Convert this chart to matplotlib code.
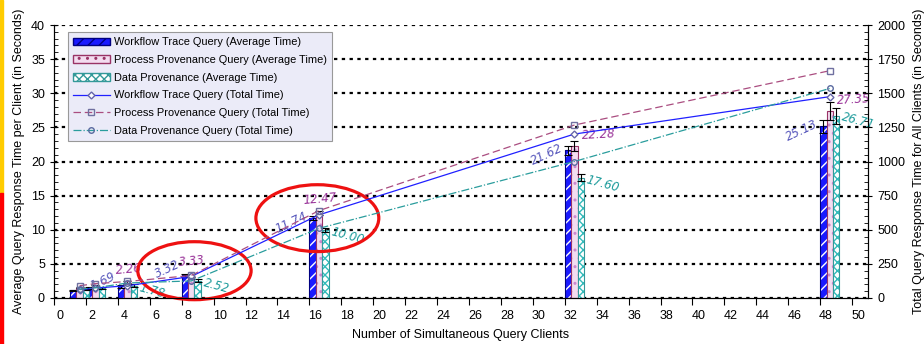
import matplotlib.pyplot as plt
import matplotlib.transforms as mtransforms
from matplotlib.patches import Ellipse, Rectangle, Patch
from matplotlib.lines import Line2D
import numpy as np

plt.rcParams['font.family'] = ['Liberation Sans', 'DejaVu Sans']

# data
clients = [1, 2, 4, 8, 16, 32, 48]
wf_avg = [1.10, 1.40, 1.69, 3.32, 11.74, 21.62, 25.13]
pp_avg = [1.50, 1.70, 2.26, 3.33, 12.47, 22.28, 27.35]
dp_avg = [1.20, 1.40, 1.78, 2.52, 10.00, 17.60, 26.71]
wf_err = [0.10, 0.15, 0.20, 0.20, 0.30, 0.60, 1.00]
pp_err = [0.10, 0.15, 0.20, 0.20, 0.30, 0.70, 1.30]
dp_err = [0.10, 0.15, 0.20, 0.20, 0.30, 0.50, 1.20]
wf_total = [61, 73, 90, 158, 609, 1201, 1475]
pp_total = [90, 105, 121, 165, 640, 1267, 1665]
dp_total = [65, 75, 110, 125, 510, 1000, 1535]
labeled = [4, 8, 16, 32, 48]

x = np.array(clients, dtype=float)
w = 0.4

fig = plt.figure(figsize=(9.24, 3.44), dpi=100)
ax = fig.add_axes([54 / 924, 46 / 344, 814 / 924, 273 / 344])
ax2 = ax.twinx()

# bars
ax.bar(x, wf_avg, w, align='edge', color='#1a1aff', edgecolor='white', hatch='///', linewidth=0)
ax.bar(x, wf_avg, w, align='edge', fill=False, edgecolor='#000080', linewidth=0.8)
ax.bar(x + w, pp_avg, w, align='edge', color='#f3dcf0', edgecolor='#cc88cc', hatch='..', linewidth=0)
ax.bar(x + w, pp_avg, w, align='edge', fill=False, edgecolor='#993366', linewidth=0.8)
ax.bar(x + 2 * w, dp_avg, w, align='edge', color='white', edgecolor='#33bbbb', hatch='xxxx', linewidth=0)
ax.bar(x + 2 * w, dp_avg, w, align='edge', fill=False, edgecolor='#339999', linewidth=0.8)

for off, vals, errs in [(0.5, wf_avg, wf_err), (1.5, pp_avg, pp_err), (2.5, dp_avg, dp_err)]:
    ax.errorbar(x + off * w, vals, yerr=errs, fmt='none', ecolor='black', elinewidth=0.8, capsize=3, capthick=0.8)

# value labels
lab = dict(fontsize=8.5, style='italic', family='DejaVu Sans', rotation_mode='anchor', textcoords='offset points')
for xi, v in zip(x, wf_avg):
    if xi in labeled:
        dy = 8 if v < 5 else 2
        ax.annotate(f'{v:.2f}', (xi, v), xytext=(-2, dy), ha='right', va='center',
                    rotation=25, color='#5555bb', **lab)
for xi, v in zip(x, pp_avg):
    if xi in labeled:
        if v > 20:
            ax.annotate(f'{v:.2f}', (xi + 2 * w, v), xytext=(3, 3), ha='left', va='bottom',
                        rotation=3, color='#993399', **lab)
        else:
            ax.annotate(f'{v:.2f}', (xi + 1.5 * w, v), xytext=(1, 5), ha='center', va='bottom',
                        rotation=5, color='#993399', **lab)
for xi, v in zip(x, dp_avg):
    if xi in labeled:
        ax.annotate(f'{v:.2f}', (xi + 3 * w, v), xytext=(2, -1), ha='left', va='center',
                    rotation=-15, color='#1a9a9a', **lab)

# total time lines
ax2.plot(x + 1.5 * w, wf_total, '-', color='#2020ff', lw=0.9, marker='D', ms=3.5, mfc='white', mec='#6666aa')
ax2.plot(x + 1.5 * w, pp_total, '--', color='#aa4d80', lw=0.9, dashes=(6, 3), marker='s', ms=4.5, mfc='none', mec='#7070a0')
ax2.plot(x + 1.5 * w, dp_total, '-.', color='#2a9d9d', lw=0.9, marker='o', ms=4, mfc='none', mec='#5a6aa0')

# axes
ax.set_xlim(0, 51)
ax.set_ylim(0, 40)
ax2.set_ylim(0, 2000)
ax.set_xticks(np.arange(0, 51, 2))
ax.set_yticks(np.arange(0, 41, 5))
ax.set_yticks(np.arange(0, 41, 1), minor=True)
ax2.set_yticks(np.arange(0, 2001, 250))
ax2.set_yticks(np.arange(0, 2001, 50), minor=True)
ax.yaxis.grid(True, which='major', color='black', linestyle=(0, (1.5, 2)), linewidth=1.6)
ax.set_axisbelow(True)
for a in (ax, ax2):
    a.spines['top'].set_visible(False)
    a.tick_params(labelsize=9)
ax.tick_params(axis='y', which='major', direction='inout', length=6)
ax.tick_params(axis='y', which='minor', direction='in', length=3)
ax2.tick_params(axis='y', which='major', direction='inout', length=6)
ax2.tick_params(axis='y', which='minor', direction='in', length=3)
ax.tick_params(axis='x', direction='out', length=5)
shift = mtransforms.ScaledTranslation(6 / 100, 0, fig.dpi_scale_trans)
for lbl in ax.get_xticklabels():
    lbl.set_transform(lbl.get_transform() + shift)

ax.set_xlabel('Number of Simultaneous Query Clients', fontsize=9, labelpad=5)
ax.set_ylabel('Average Query Response Time per Client (in Seconds)', fontsize=9)
ax2.set_ylabel('Total Query Response Time for All Clients (in Seconds)', fontsize=9, labelpad=6)

# highlight ellipses
ax2.add_patch(Ellipse((8.8, 200), 7.1, 425, transform=ax2.transData, fill=False, edgecolor='#ee1111', lw=2.3, clip_on=False))
ax2.add_patch(Ellipse((16.5, 585), 7.7, 490, transform=ax2.transData, fill=False, edgecolor='#ee1111', lw=2.3, clip_on=False))

# legend
handles = [
    Patch(facecolor='#1a1aff', edgecolor='#000080', hatch='///'),
    Patch(facecolor='#f3dcf0', edgecolor='#993366', hatch='..'),
    Patch(facecolor='white', edgecolor='#339999', hatch='xxxx'),
    Line2D([], [], color='#2020ff', lw=0.9, marker='D', ms=3.5, mfc='white', mec='#6666aa'),
    Line2D([], [], color='#aa4d80', lw=0.9, ls='--', dashes=(6, 3), marker='s', ms=4.5, mfc='none', mec='#7070a0'),
    Line2D([], [], color='#2a9d9d', lw=0.9, ls='-.', marker='o', ms=4, mfc='none', mec='#5a6aa0'),
]
labels = ['Workflow Trace Query (Average Time)', 'Process Provenance Query (Average Time)',
          'Data Provenance (Average Time)', 'Workflow Trace Query (Total Time)',
          'Process Provenance Query (Total Time)', 'Data Provenance Query (Total Time)']
leg = ax2.legend(handles, labels, loc='upper left', bbox_to_anchor=(0.017, 0.975), borderaxespad=0,
                 fontsize=7.9, fancybox=False, framealpha=1, edgecolor='#999999', facecolor='#ebebf8',
                 handlelength=3.3, labelspacing=0.7, borderpad=0.5, handletextpad=0.4)
leg.get_frame().set_linewidth(0.8)

# coloured strip on the left edge
fig.patches.append(Rectangle((0, 151 / 344), 3 / 924, 193 / 344, transform=fig.transFigure, color='#ffcc00'))
fig.patches.append(Rectangle((0, 0), 3 / 924, 151 / 344, transform=fig.transFigure, color='#ff0000'))

fig.savefig('out.png', dpi=100)
